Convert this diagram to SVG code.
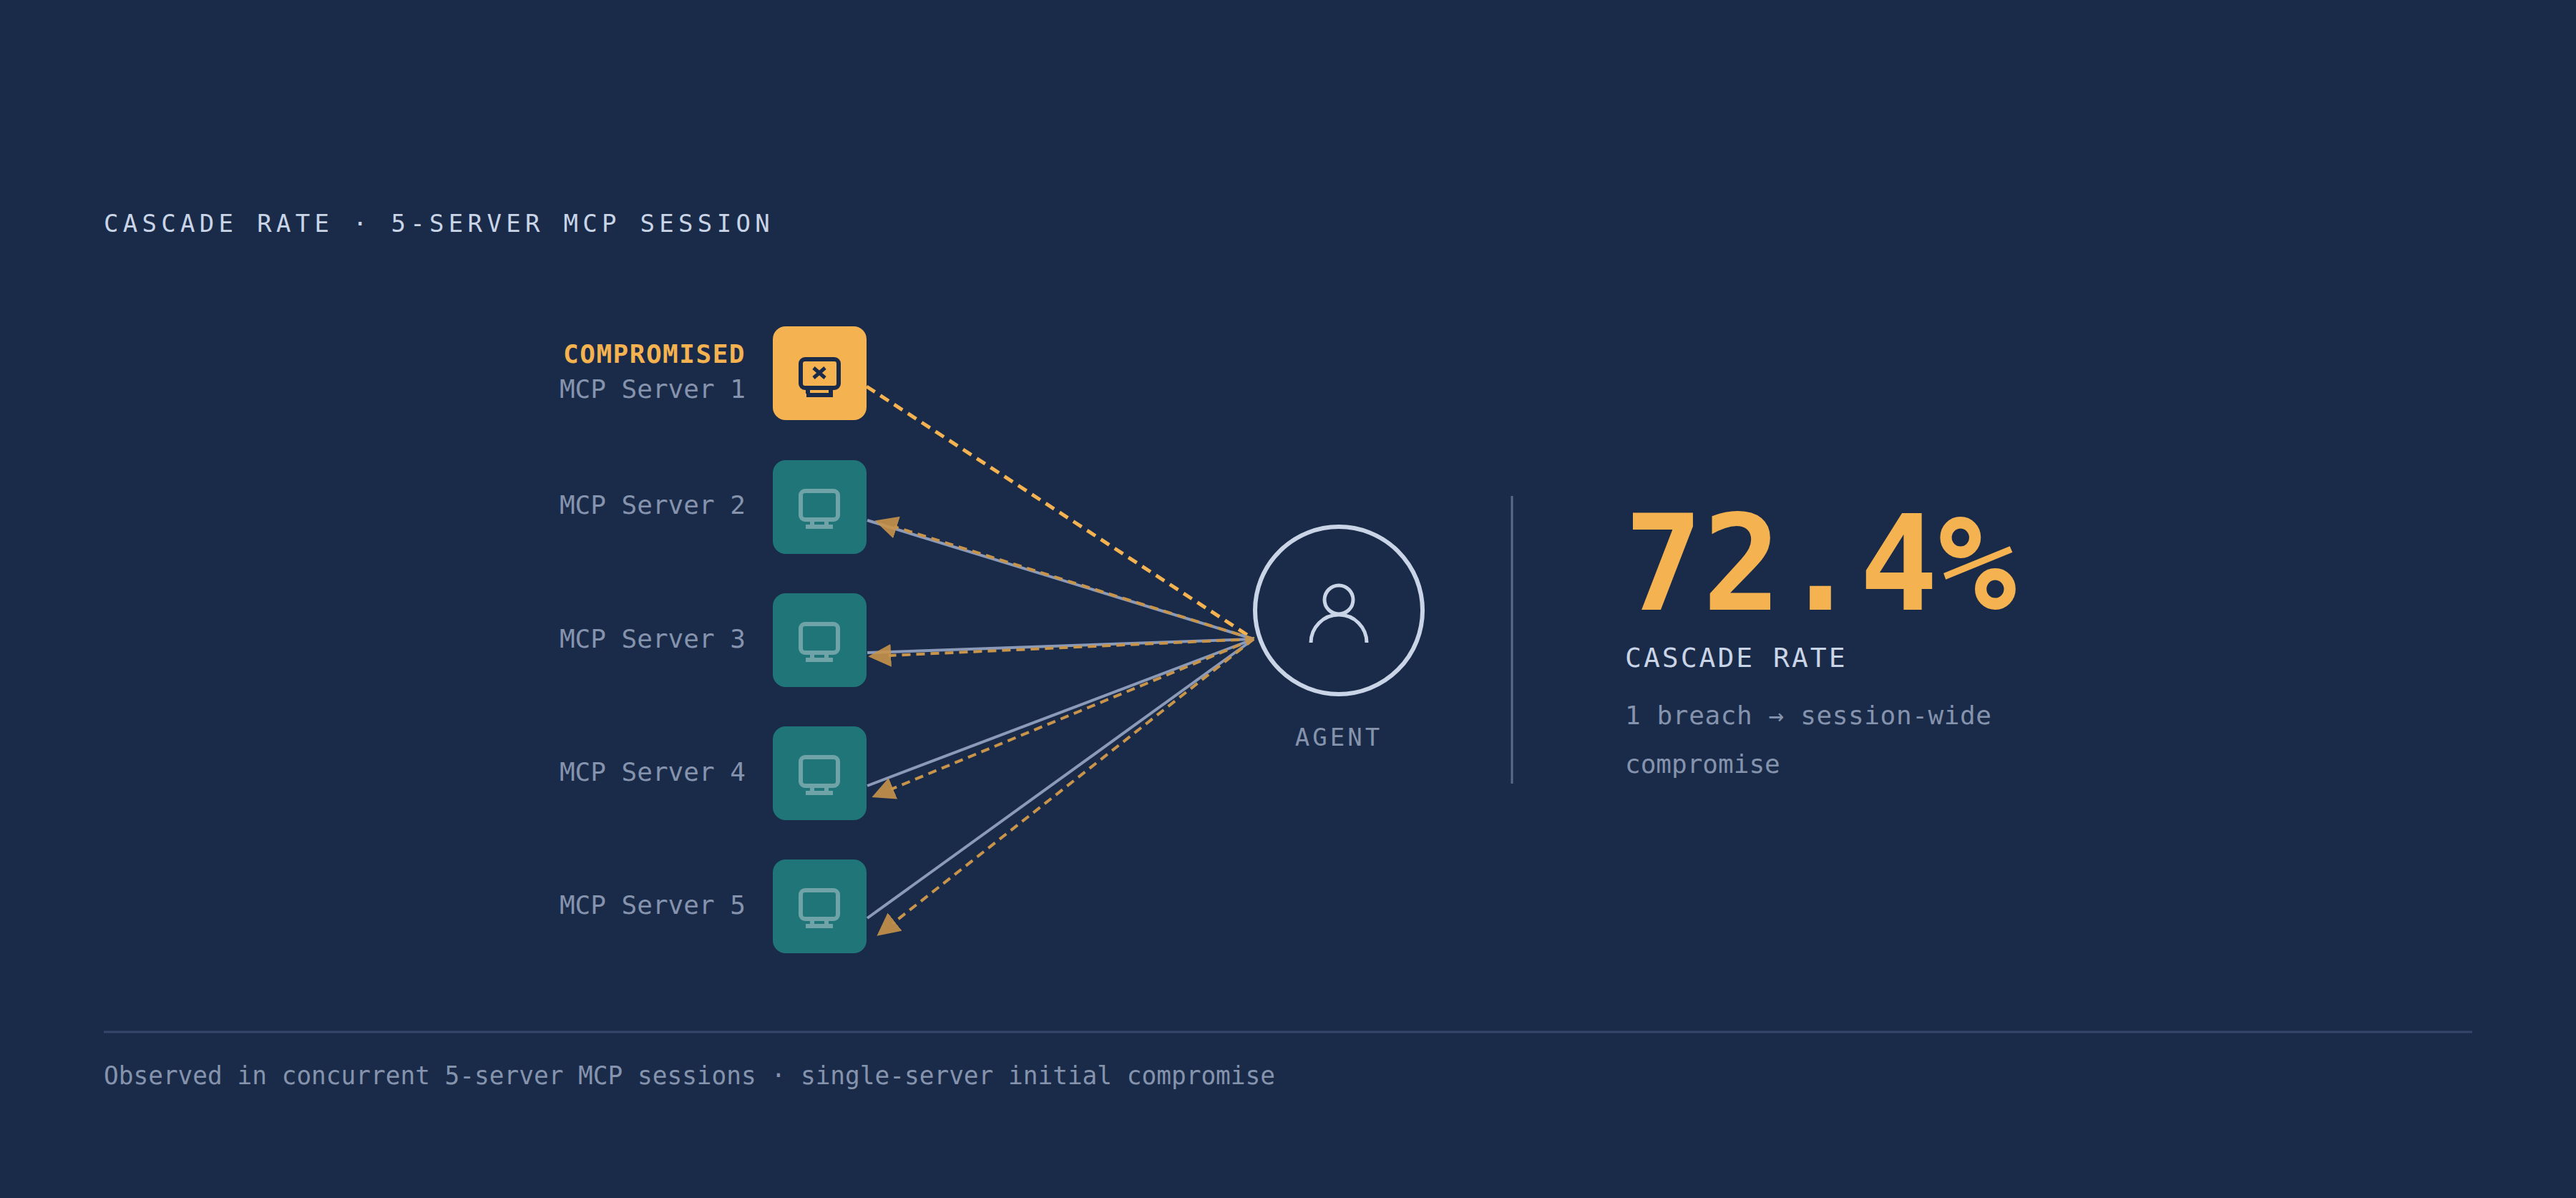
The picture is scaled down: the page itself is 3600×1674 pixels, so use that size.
<svg xmlns="http://www.w3.org/2000/svg" width="3600" height="1674" viewBox="0 0 3600 1674">
<defs>
<style>
.mono{font-family:"DejaVu Sans Mono","Liberation Mono",monospace}
.lbl{font-size:36px;fill:#8593ad;text-anchor:end}
.box{fill:#1f7577}
.ic{fill:none;stroke:#6fa3a8;stroke-width:6}
.sol{stroke:#8a9ab8;stroke-width:4;fill:none}
.dsh{stroke:#c8944a;stroke-width:4;stroke-dasharray:12 8;fill:none}
</style>
<marker id="ah2" viewBox="0 0 10 10" refX="1" refY="5" markerWidth="32" markerHeight="32" orient="auto-start-reverse" markerUnits="userSpaceOnUse">
<path d="M0,0 L10,5 L0,10 z" fill="#c8944a" fill-opacity="0.9"/>
</marker>
<g id="mon">
<rect x="-26" y="-19" width="52" height="40" rx="6" class="ic"/>
<path d="M-10,24 v6 M10,24 v6 M-19,31 h38" class="ic"/>
</g>
</defs>
<rect width="3600" height="1674" fill="#1a2b4a"/>
<text class="mono" x="145" y="324" font-size="34" fill="#c9d4e6" letter-spacing="6.3">CASCADE RATE · 5-SERVER MCP SESSION</text>

<g id="connectors">
<line x1="1211" y1="540" x2="1752" y2="893" stroke="#f4b350" stroke-width="5" stroke-dasharray="14 9"/>
<line class="sol" x1="1212" y1="727" x2="1752" y2="893"/>
<line class="dsh" x1="1752" y1="893" x2="1250" y2="736" marker-end="url(#ah2)"/>
<line class="sol" x1="1212" y1="912" x2="1752" y2="893"/>
<line class="dsh" x1="1752" y1="893" x2="1242" y2="916" marker-end="url(#ah2)"/>
<line class="sol" x1="1212" y1="1098" x2="1752" y2="893"/>
<line class="dsh" x1="1752" y1="893" x2="1245" y2="1103" marker-end="url(#ah2)"/>
<line class="sol" x1="1212" y1="1283" x2="1752" y2="893"/>
<line class="dsh" x1="1752" y1="893" x2="1248" y2="1290" marker-end="url(#ah2)"/>
</g>

<g id="server1">
<text class="mono" x="1042" y="507" font-size="36" font-weight="bold" fill="#f4b350" text-anchor="end" letter-spacing="1.5">COMPROMISED</text>
<text class="mono lbl" x="1042" y="556">MCP Server 1</text>
<rect x="1080" y="456" width="131" height="131" rx="18" fill="#f4b350"/>
<rect x="1119" y="502" width="53" height="40" rx="6" fill="none" stroke="#1a2b4a" stroke-width="6"/>
<path d="M1129,542 v8 M1161,542 v8 M1127,552 h37" stroke="#1a2b4a" stroke-width="6" fill="none"/>
<path d="M1137,514 l16,14 M1153,514 l-16,14" stroke="#1a2b4a" stroke-width="5"/>
</g>
<g id="server2">
<text class="mono lbl" x="1042" y="718">MCP Server 2</text>
<rect class="box" x="1080" y="643" width="131" height="131" rx="18"/>
<use href="#mon" x="1145" y="705"/>
</g>
<g id="server3">
<text class="mono lbl" x="1042" y="905">MCP Server 3</text>
<rect class="box" x="1080" y="829" width="131" height="131" rx="18"/>
<use href="#mon" x="1145" y="891"/>
</g>
<g id="server4">
<text class="mono lbl" x="1042" y="1091">MCP Server 4</text>
<rect class="box" x="1080" y="1015" width="131" height="131" rx="18"/>
<use href="#mon" x="1145" y="1077"/>
</g>
<g id="server5">
<text class="mono lbl" x="1042" y="1277">MCP Server 5</text>
<rect class="box" x="1080" y="1201" width="131" height="131" rx="18"/>
<use href="#mon" x="1145" y="1263"/>
</g>

<g id="agent">
<circle cx="1871" cy="853" r="117" fill="#1a2b4a" stroke="#c9d4e6" stroke-width="6"/>
<circle cx="1871" cy="838" r="20" fill="none" stroke="#c9d4e6" stroke-width="5"/>
<path d="M1832,898 a39,39 0 0 1 78,0" fill="none" stroke="#c9d4e6" stroke-width="5"/>
<text class="mono" x="1871" y="1042" font-size="34" fill="#8593ad" text-anchor="middle" letter-spacing="4">AGENT</text>
</g>

<line x1="2113" y1="693" x2="2113" y2="1095" stroke="#5a6a88" stroke-width="3"/>

<g id="stat">
<text class="mono" x="2270" y="852" font-size="186" font-weight="bold" fill="#f4b350" textLength="548" lengthAdjust="spacingAndGlyphs">72.4%</text>
<text class="mono" x="2271" y="932" font-size="38" fill="#c9d4e6" letter-spacing="3">CASCADE RATE</text>
<text class="mono" x="2271" y="1012" font-size="36" fill="#8593ad" textLength="512">1 breach → session-wide</text>
<text class="mono" x="2271" y="1080" font-size="36" fill="#8593ad">compromise</text>
</g>

<line x1="145" y1="1442" x2="3455" y2="1442" stroke="#34466a" stroke-width="3"/>
<text class="mono" x="145" y="1515" font-size="35" fill="#8593ad" textLength="1637" lengthAdjust="spacingAndGlyphs">Observed in concurrent 5-server MCP sessions · single-server initial compromise</text>
</svg>
